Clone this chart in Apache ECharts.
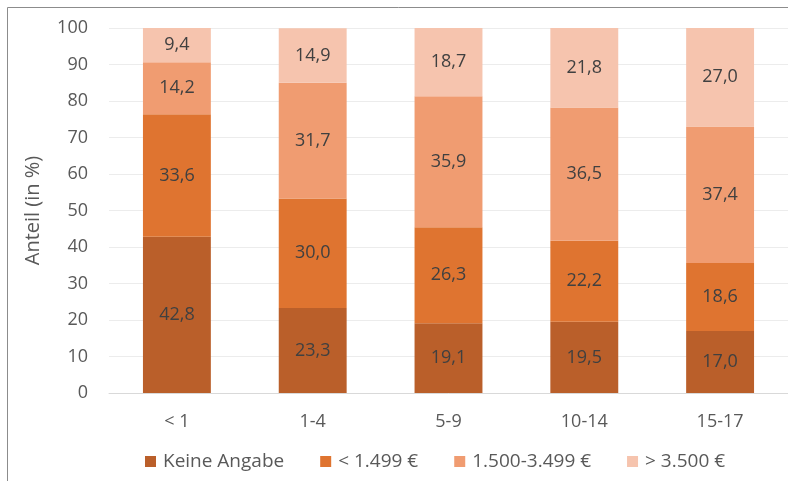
<!DOCTYPE html>
<html><head><meta charset="utf-8">
<script src="https://cdn.jsdelivr.net/npm/echarts@6/dist/echarts.min.js"></script>
<style>html,body{margin:0;padding:0;background:#fff}#c{width:788px;height:481px}</style>
</head><body><div id="c"></div>
<script>
const categories = ['< 1', '1-4', '5-9', '10-14', '15-17'];
const seriesNames = ['Keine Angabe', '< 1.499 €', '1.500-3.499 €', '> 3.500 €'];
const keineAngabe = [42.8, 23.3, 19.1, 19.5, 17.0];
const unter1499 = [33.6, 30.0, 26.3, 22.2, 18.6];
const mittel = [14.2, 31.7, 35.9, 36.5, 37.4];
const ueber3500 = [9.4, 14.9, 18.7, 21.8, 27.0];
const yTicks = [0, 10, 20, 30, 40, 50, 60, 70, 80, 90, 100];

const colors = ['#BA5F2A', '#DF7430', '#F09C71', '#F6C4AE'];
const font = 'Open Sans, sans-serif';
const chart = echarts.init(document.getElementById('c'));
const mk = (name, data, i) => ({
  name, type: 'bar', stack: 'a', data, barWidth: '50%',
  itemStyle: { color: colors[i] },
  label: { show: true, position: 'inside', color: '#404040', fontFamily: font, fontSize: 18,
    formatter: p => p.value.toFixed(1).replace('.', ',') }
});
chart.setOption({
  animation: false,
  grid: { left: 109, right: -1, top: 28, bottom: 88 },
  graphic: [{ type: 'rect', shape: { x: 7.5, y: 7.5, width: 800, height: 500 },
    style: { fill: 'none', stroke: '#8c8c8c', lineWidth: 1 }, silent: true }],
  legend: { bottom: 5, left: 140, itemWidth: 11, itemHeight: 11, itemGap: 36,
    textStyle: { fontFamily: font, fontSize: 19, color: '#595959', padding: [0, 0, 0, 2] },
    data: seriesNames.map(n => ({ name: n, icon: 'rect' })) },
  xAxis: { type: 'category', data: categories,
    axisLine: { lineStyle: { color: '#d9d9d9', width: 1 } }, axisTick: { show: false },
    axisLabel: { fontFamily: font, fontSize: 18, color: '#595959', margin: 20 } },
  yAxis: { type: 'value', min: 0, max: 100, interval: 10,
    name: 'Anteil (in %)', nameLocation: 'middle', nameGap: 66, nameRotate: 90,
    nameTextStyle: { fontFamily: font, fontSize: 20, color: '#595959' },
    axisLabel: { fontFamily: font, fontSize: 18, color: '#595959', margin: 21,
      formatter: v => yTicks.includes(v) ? String(v) : '' },
    splitLine: { lineStyle: { color: '#ececec', width: 1 } },
    axisLine: { show: false }, axisTick: { show: false } },
  series: [mk(seriesNames[0], keineAngabe, 0), mk(seriesNames[1], unter1499, 1),
    mk(seriesNames[2], mittel, 2), mk(seriesNames[3], ueber3500, 3)]
});
</script></body></html>
